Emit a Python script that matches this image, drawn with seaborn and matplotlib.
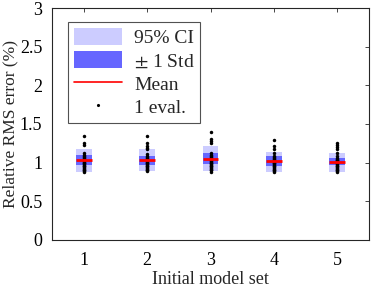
import seaborn as sns
import matplotlib.pyplot as plt
import pandas as pd
from matplotlib.patches import Patch
from matplotlib.lines import Line2D

# Values
model_sets = [1, 2, 3, 4, 5]
means = [1.035, 1.03, 1.05, 1.018, 1.009]
std_lo = [0.97, 0.97, 0.98, 0.96, 0.97]
std_hi = [1.10, 1.09, 1.13, 1.08, 1.065]
ci_lo = [0.884, 0.885, 0.893, 0.884, 0.884]
ci_hi = [1.173, 1.17, 1.216, 1.14, 1.13]

evals_1 = [1.35, 1.25, 1.23, 1.12, 1.10, 1.08, 1.07, 1.06, 1.05, 1.04, 1.03, 1.02,
           1.01, 1.00, 0.99, 0.98, 0.97, 0.96, 0.95, 0.94, 0.93, 0.92, 0.91, 0.90, 0.89, 0.88]
evals_2 = [1.34, 1.25, 1.22, 1.19, 1.17, 1.11, 1.09, 1.07, 1.06, 1.05, 1.04, 1.03,
           1.02, 1.01, 1.00, 0.99, 0.98, 0.97, 0.96, 0.95, 0.94, 0.93, 0.92, 0.91, 0.90, 0.89]
evals_3 = [1.40, 1.31, 1.28, 1.25, 1.13, 1.10, 1.08, 1.07, 1.06, 1.05, 1.04, 1.03,
           1.02, 1.01, 1.00, 0.99, 0.98, 0.97, 0.96, 0.95, 0.94, 0.93, 0.92, 0.91, 0.90, 0.88]
evals_4 = [1.29, 1.21, 1.18, 1.13, 1.09, 1.07, 1.06, 1.05, 1.04, 1.03, 1.02, 1.01,
           1.00, 0.99, 0.98, 0.97, 0.96, 0.95, 0.94, 0.93, 0.92, 0.91, 0.90, 0.89, 0.88]
evals_5 = [1.25, 1.23, 1.20, 1.17, 1.13, 1.08, 1.06, 1.05, 1.04, 1.03, 1.02, 1.01,
           1.00, 0.99, 0.98, 0.97, 0.96, 0.95, 0.94, 0.93, 0.92, 0.91, 0.90, 0.89, 0.88]

all_evals = [evals_1, evals_2, evals_3, evals_4, evals_5]
df = pd.DataFrame({
    'set': [s for s, ev in zip(model_sets, all_evals) for _ in ev],
    'err': [v for ev in all_evals for v in ev],
})

sns.set_style('white')
plt.rcParams['font.family'] = ['Liberation Serif', 'DejaVu Serif']
plt.rcParams['mathtext.fontset'] = 'stix'

fig = plt.figure(figsize=(3.71, 2.89), dpi=100)
ax = fig.add_axes([0.140, 0.170, 0.855, 0.802])

light = '#ccccff'
dark = '#6666ff'
w = 0.25

ax.bar(model_sets, [h - l for l, h in zip(ci_lo, ci_hi)], bottom=ci_lo, width=w,
       color=light, edgecolor='none', zorder=1)
ax.bar(model_sets, [h - l for l, h in zip(std_lo, std_hi)], bottom=std_lo, width=w,
       color=dark, edgecolor='none', zorder=2)
sns.stripplot(data=df, x='set', y='err', native_scale=True, jitter=False, color='black',
              size=2.5, linewidth=0, ax=ax, zorder=3)
ax.hlines(means, [s - w / 2 for s in model_sets], [s + w / 2 for s in model_sets],
          color='red', linewidth=2.0, zorder=4)

ax.set_xlim(0.5, 5.5)
ax.set_ylim(0, 3)
ax.set_xticks(model_sets)
ax.set_yticks([0, 0.5, 1, 1.5, 2, 2.5, 3])
ax.set_yticklabels(['0', '0.5', '1', '1.5', '2', '2.5', '3'])
ax.tick_params(direction='in', length=3, width=0.6, top=True, right=True,
               labelsize=13, colors='#262626', labelcolor='black')
ax.tick_params(axis='x', pad=9)
ax.tick_params(axis='y', pad=7)
for sp in ax.spines.values():
    sp.set_visible(True)
    sp.set_color('#262626')
    sp.set_linewidth(0.8)
ax.set_xlabel('Initial model set', fontsize=13, labelpad=1)
ax.set_ylabel('Relative RMS error (%)', fontsize=12.5, labelpad=1)

handles = [
    Patch(facecolor=light, edgecolor='none', label='95% CI'),
    Patch(facecolor=dark, edgecolor='none', label=r'$\pm$ 1 Std'),
    Line2D([], [], color='red', linewidth=1.2, label='Mean'),
    Line2D([], [], color='black', marker='.', markersize=2.5, linestyle='none', label='1 eval.'),
]
leg = ax.legend(handles=handles, loc='upper left', bbox_to_anchor=(0.05, 0.94),
                borderaxespad=0, fontsize=14, frameon=True, fancybox=False,
                handlelength=2.5, handleheight=1.0, labelspacing=0.2, borderpad=0.3,
                handletextpad=0.6)
leg.get_frame().set_edgecolor('#262626')
leg.get_frame().set_linewidth(0.8)

fig.savefig('out.png', dpi=100)
plt.close()
